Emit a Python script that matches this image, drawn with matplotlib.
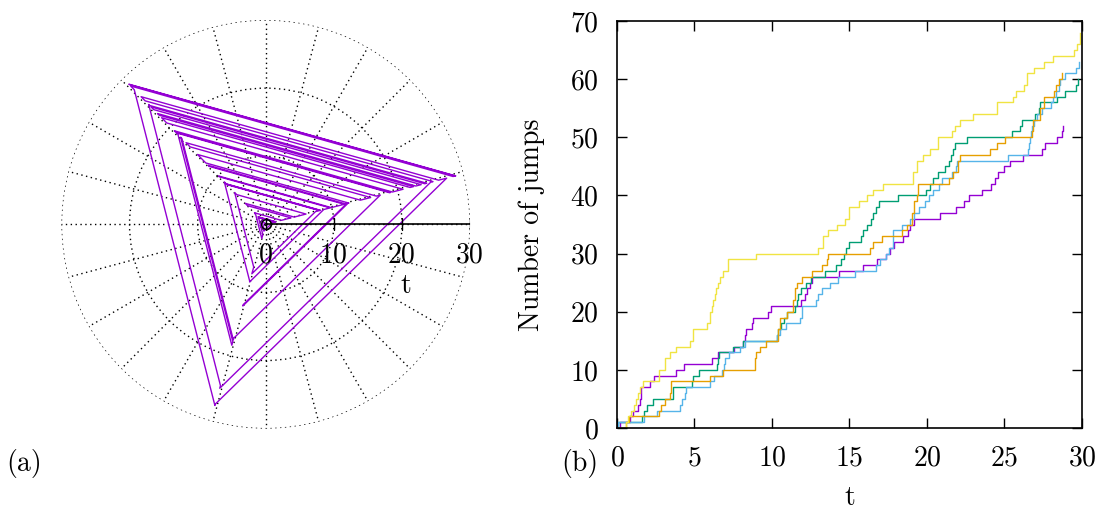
import numpy as np
import matplotlib
matplotlib.use('Agg')
import matplotlib.pyplot as plt

plt.rcParams['font.family'] = ['cmr10', 'DejaVu Serif']
plt.rcParams['mathtext.fontset'] = 'cm'
plt.rcParams['axes.formatter.use_mathtext'] = True

# jump times of the first realisation (purple), one entry per jump
purple_jumps = [0.17, 0.82, 1.03, 1.36, 1.46, 1.52, 1.57, 2.15, 2.37, 3.83,
                4.31, 6.10, 6.53, 7.54, 8.14, 8.25, 8.31, 8.70, 8.79, 9.76,
                9.93, 11.90, 12.10, 12.25, 12.45, 12.60, 14.34, 15.90, 16.76, 17.36,
                17.62, 17.88, 18.44, 18.76, 18.91, 19.19, 20.81, 21.88, 22.40, 22.74,
                23.55, 24.10, 24.40, 24.60, 25.00, 25.35, 26.20, 27.42, 27.63, 28.39,
                28.70, 28.77]
# state (0, 1, 2 -> one of three directions) before the first jump and after each jump
start_state = 0
purple_states = [1, 2, 0, 1, 0, 1, 2, 1, 0, 1,
                 0, 1, 2, 0, 1, 0, 1, 2, 0, 1,
                 0, 1, 0, 2, 0, 1, 0, 1, 0, 2,
                 1, 2, 1, 0, 1, 0, 1, 0, 1, 0,
                 1, 0, 1, 2, 0, 1, 0, 2, 1, 0,
                 1, 0]

# other realisations: step corners (time, number of jumps)
green_t = [0, 0.04, 1.60, 1.72, 1.94, 2.30, 3.62, 4.84, 4.90, 5.31, 6.45, 6.52, 6.60,
           7.50, 8.10, 10.30, 10.40, 10.60, 10.75, 10.95, 11.50, 11.60, 11.70, 11.90,
           12.20, 12.55, 13.45, 14.10, 14.45, 14.65, 14.80, 15.00, 15.75, 15.90, 16.15,
           16.40, 16.55, 16.70, 16.93, 18.16, 19.94, 20.20, 20.42, 20.74, 21.17, 21.39, 21.54,
           21.67, 21.82, 22.61, 25.48, 26.00, 26.10, 26.95, 27.20, 27.30, 28.40, 28.90,
           29.60, 29.72]
green_n = [0, 1, 2, 3, 4, 5, 7, 8, 9, 10, 11, 12, 13,
           14, 15, 16, 17, 18, 19, 20, 21, 22, 23, 24,
           25, 26, 27, 28, 29, 30, 31, 32, 33, 34, 35,
           36, 37, 38, 39, 40, 41, 42, 43, 44, 45, 46, 47,
           48, 49, 50, 51, 52, 53, 54, 55, 56, 57, 58,
           59, 60]

blue_t = [0, 0.05, 1.72, 2.58, 4.09, 4.19, 4.37, 4.45, 6.02, 6.24, 6.77, 6.90, 6.99,
          7.20, 7.96, 8.24, 10.33, 10.50, 10.90, 11.80, 11.91, 12.84, 12.99, 13.20,
          13.74, 14.28, 15.36, 16.71, 16.97, 17.36, 17.57, 17.79, 18.37, 18.91, 19.17,
          19.51, 19.88, 20.10, 20.40, 20.80, 21.00, 21.60, 21.90, 21.95, 25.25, 26.55,
          26.60, 26.65, 26.70, 26.80, 26.90, 27.10, 27.40, 28.00, 28.10, 28.30, 28.50,
          28.60, 28.90, 29.60, 29.78]
blue_n = [0, 1, 2, 3, 4, 5, 6, 7, 8, 9, 10, 11, 12,
          13, 14, 15, 16, 17, 18, 19, 21, 22, 23, 24,
          25, 26, 27, 28, 29, 30, 31, 34, 35, 36, 37,
          38, 39, 40, 41, 42, 43, 44, 45, 46, 47, 48,
          49, 50, 51, 52, 53, 54, 55, 56, 57, 58, 59,
          60, 61, 62, 63]

orange_t = [0, 0.60, 0.80, 2.71, 2.86, 3.08, 3.40, 3.51, 5.99, 6.81, 8.90, 9.00, 9.22,
            9.61, 10.40, 10.55, 10.94, 11.37, 11.48, 11.59, 11.91, 12.56, 13.20, 13.53,
            13.63, 16.33, 16.50, 17.08, 18.37, 18.69, 19.02, 19.17, 19.34, 19.45, 21.45,
            21.71, 22.03, 22.14, 24.08, 24.51, 25.05, 26.77, 26.84, 27.31, 27.53, 28.17,
            28.35, 28.50, 28.71]
orange_n = [0, 1, 2, 3, 4, 5, 6, 8, 9, 10, 12, 13, 14,
            15, 17, 19, 20, 22, 24, 25, 26, 27, 28, 29,
            30, 31, 32, 33, 34, 35, 37, 39, 40, 42, 43,
            44, 46, 47, 48, 49, 50, 51, 53, 55, 57, 58,
            59, 60, 61]

yellow_t = [0, 0.60, 0.71, 0.93, 1.08, 1.21, 1.36, 1.46, 1.68, 2.71, 3.08, 3.40, 3.79,
            4.70, 4.91, 5.82, 5.99, 6.10, 6.20, 6.31, 6.42, 6.53, 6.63, 6.85, 7.17,
            9.00, 12.99, 13.31, 13.63, 14.17, 14.71, 14.99, 15.64, 16.15, 16.54, 17.14,
            19.08, 19.38, 19.77, 20.20, 20.74, 21.60, 21.82, 22.10, 23.00, 24.55, 25.54,
            25.76, 26.23, 26.45, 26.92, 27.53, 28.13, 29.46, 29.68, 29.90]
yellow_n = [0, 1, 2, 3, 4, 5, 6, 7, 8, 10, 12, 13, 14,
            15, 17, 18, 20, 21, 22, 23, 24, 25, 26, 27, 29,
            30, 31, 33, 34, 35, 36, 38, 39, 40, 41, 42,
            44, 46, 47, 48, 50, 51, 52, 53, 54, 56, 57,
            58, 59, 61, 62, 63, 64, 65, 66, 68]

colors = ['#9400d3', '#009e73', '#56b4e9', '#e69f00', '#f0e442']
fs = 20

fig = plt.figure(figsize=(10.99, 5.11), dpi=100)

# ---- (a) trajectory in polar coordinates, radius = time ----
ax1 = fig.add_axes([0.0559, 0.1612, 0.3718, 0.7996], projection='polar')
angles = 0.25 + 2 * np.pi / 3 * np.arange(3)
theta_path = [angles[start_state]]
r_path = [0.0]
prev = start_state
for tj, s in zip(purple_jumps, purple_states):
    theta_path += [angles[prev], angles[s]]
    r_path += [tj, tj]
    prev = s
ax1.plot(theta_path, r_path, color=colors[0], lw=1.0)

ax1.set_ylim(0, 30)
ax1.set_thetagrids(np.arange(0, 360, 15), labels=[])
ax1.set_rgrids([10, 20, 30], labels=[])
ax1.grid(True, color='black', linestyle=(0, (1, 2.5)), linewidth=1.0)
ax1.spines['polar'].set_visible(False)
ax1.plot([0, 0], [0, 30], color='black', lw=1.2)
r_ticks = [0, 10, 20, 30]
ax1.plot(np.zeros(len(r_ticks)), r_ticks, linestyle='none', marker='|',
         ms=9, mew=1.0, color='black')
ax1.plot(0, 0, 'o', mfc='none', mec='black', ms=7, mew=1.0)
for r in r_ticks:
    ax1.annotate(str(r), xy=(0, r), xytext=(0, -13), textcoords='offset points',
                 ha='center', va='top', fontsize=fs)
ax1.annotate('t', xy=(0, 20.6), xytext=(0, -44), textcoords='offset points',
             ha='center', va='center', fontsize=fs)

# ---- (b) number of jumps against time ----
ax2 = fig.add_axes([0.5614, 0.1624, 0.4231, 0.7965])
t_purple = [0] + purple_jumps
n_purple = list(range(len(t_purple)))
series = [(t_purple, n_purple), (green_t, green_n), (blue_t, blue_n),
          (orange_t, orange_n), (yellow_t, yellow_n)]
for (ts, ns), c in zip(series, colors):
    ax2.step(ts, ns, where='post', color=c, lw=1.0)

ax2.set_xlim(0, 30)
ax2.set_ylim(0, 70)
ax2.set_xticks(np.arange(0, 31, 5))
ax2.set_yticks(np.arange(0, 71, 10))
ax2.tick_params(direction='in', top=True, right=True, length=7, width=1.0,
                labelsize=fs)
ax2.tick_params(axis='x', pad=12)
ax2.tick_params(axis='y', pad=13)
for sp in ax2.spines.values():
    sp.set_linewidth(1.2)
ax2.set_xlabel('t', fontsize=fs)
ax2.set_ylabel('Number of jumps', fontsize=fs)
ax2.xaxis.set_label_coords(0.5, -0.14)
ax2.yaxis.set_label_coords(-0.155, 0.5)

fig.text(24 / 1099, 1 - 464 / 511, '(a)', fontsize=fs, ha='center', va='center')
fig.text(580 / 1099, 1 - 464 / 511, '(b)', fontsize=fs, ha='center', va='center')

fig.savefig('out.png', dpi=100)
